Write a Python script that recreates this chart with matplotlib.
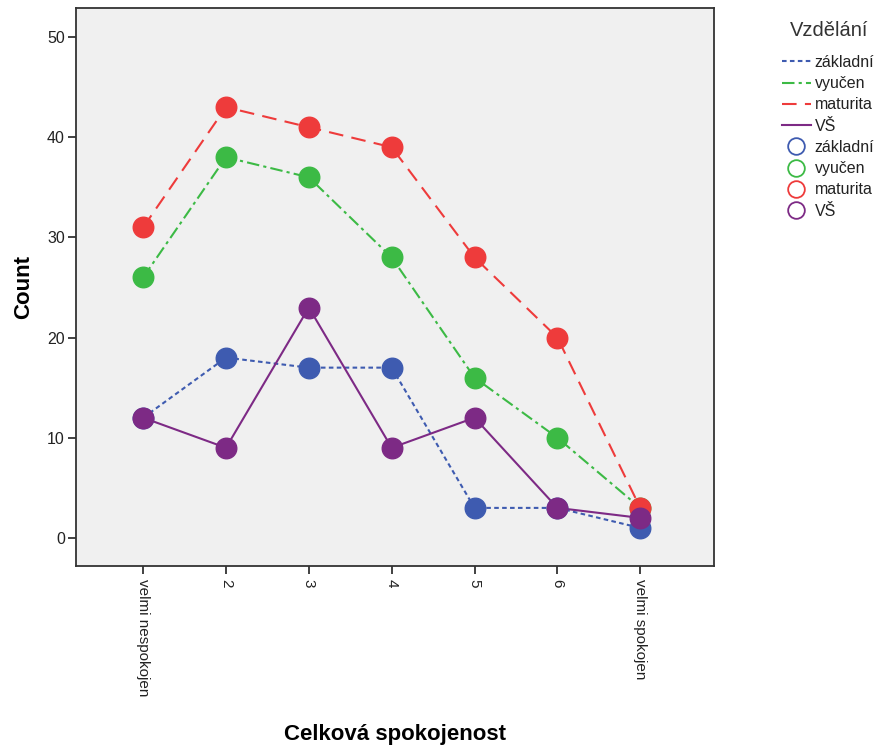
import matplotlib
matplotlib.use("Agg")
import matplotlib.pyplot as plt
from matplotlib.lines import Line2D

plt.rcParams['font.family'] = ['Liberation Sans', 'DejaVu Sans']

categories = ["velmi nespokojen", "2", "3", "4", "5", "6", "velmi spokojen"]
series_names = ["základní", "vyučen", "maturita", "VŠ"]
zakladni = [12, 18, 17, 17, 3, 3, 1]
vyucen = [26, 38, 36, 28, 16, 10, 3]
maturita = [31, 43, 41, 39, 28, 20, 3]
vs = [12, 9, 23, 9, 12, 3, 2]
yticks = [0, 10, 20, 30, 40, 50]

colors = ["#3e5bb0", "#3cba45", "#ee3b3b", "#7d2a85"]
styles = [(0, (2.2, 1.6)), (0, (6, 2, 1.5, 2)), (0, (7, 4)), "-"]
values = [zakladni, vyucen, maturita, vs]

fig = plt.figure(figsize=(8.78, 7.49), dpi=100)
ax = fig.add_axes([76 / 878, 1 - 566 / 749, (714 - 76) / 878, (566 - 8) / 749])
ax.set_facecolor("#f0f0f0")

x = list(range(1, len(categories) + 1))
for vals, c, ls in zip(values, colors, styles):
    ax.plot(x, vals, color=c, linestyle=ls, linewidth=1.5, zorder=2)
for vals, c in zip(values, colors):
    ax.plot(x, vals, linestyle="none", marker="o", markersize=14.8,
            markerfacecolor=c, markeredgecolor=c, zorder=3)

ax.set_xlim(0.19, 7.89)
ax.set_ylim(-2.8, 52.9)
ax.set_xticks(x)
ax.set_xticklabels(categories, rotation=-90, va="top", ha="center", fontsize=11)
ax.set_yticks(yticks)
ax.set_yticklabels([str(v) for v in yticks], fontsize=11.5)
ax.tick_params(axis="both", direction="out", length=6, width=1.3, color="#333333",
               labelcolor="#222222")
ax.tick_params(axis="y", pad=2)
for sp in ax.spines.values():
    sp.set_color("#333333")
    sp.set_linewidth(1.3)

ax.set_ylabel("Count", fontsize=16, fontweight="bold", labelpad=9)
ax.set_xlabel("Celková spokojenost", fontsize=16, fontweight="bold", labelpad=20)

handles = []
for c, ls in zip(colors, styles):
    handles.append(Line2D([], [], color=c, linestyle=ls, linewidth=1.5))
for c in colors:
    handles.append(Line2D([], [], linestyle="none", marker="o", markersize=12,
                          markerfacecolor="none", markeredgecolor=c, markeredgewidth=1.3))
labels = series_names + series_names

fig.text(829 / 878, 1 - 30 / 749, "Vzdělání", ha="center", va="center",
         fontsize=14.5, color="#333333")
leg = fig.legend(handles, labels, loc="upper left",
                 bbox_to_anchor=(782 / 878, 1 - 55 / 749), frameon=False,
                 fontsize=11.5, handlelength=1.8,
                 handletextpad=0.25, labelspacing=0.39, borderaxespad=0,
                 borderpad=0)
for t in leg.get_texts():
    t.set_color("#222222")

fig.savefig("out.png", dpi=100)
